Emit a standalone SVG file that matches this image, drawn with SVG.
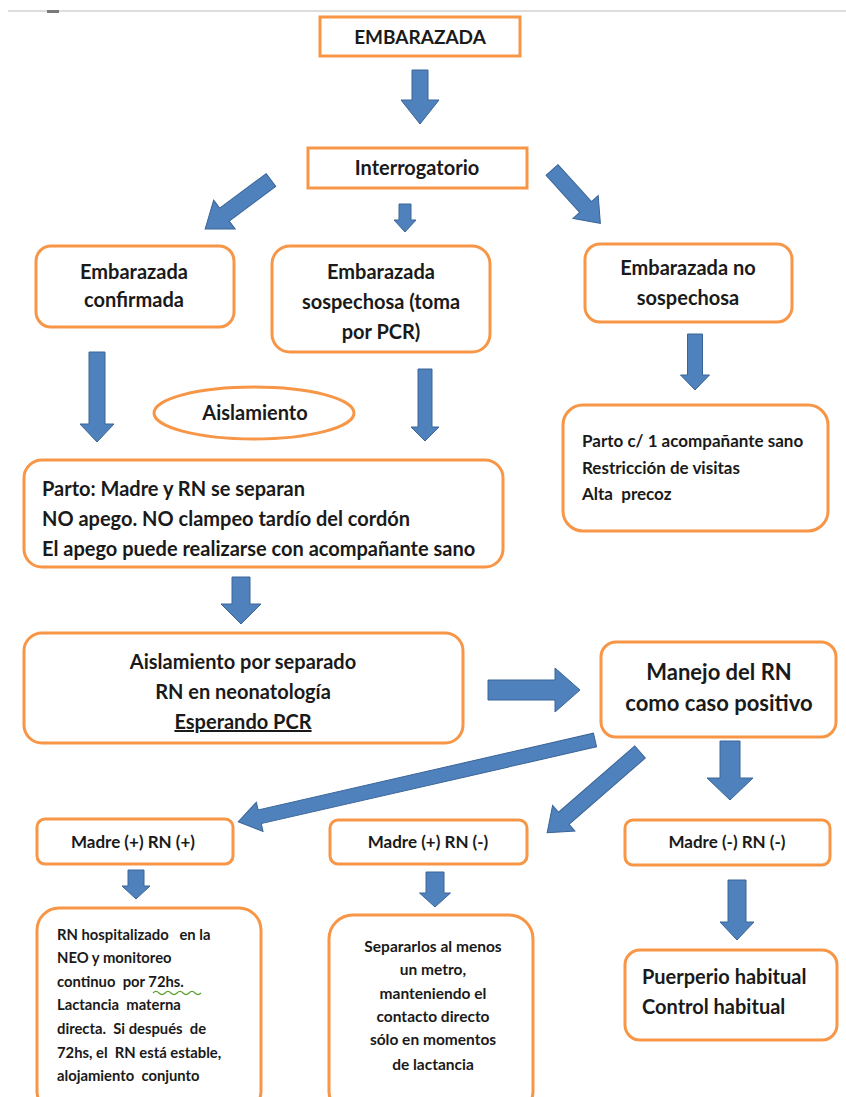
<svg xmlns="http://www.w3.org/2000/svg" width="846" height="1097" viewBox="0 0 846 1097">
<style>
.box{fill:#fff;stroke:#F79646;stroke-width:3}
.arr{fill:#4F81BD;stroke:#3A6496;stroke-width:1}
text{font-family:Lato,"Liberation Sans",sans-serif;font-weight:bold;fill:#1a1a1a;white-space:pre}
.c{text-anchor:middle}
.s19{font-size:19px}
.s20{font-size:20px}
.s17{font-size:17px}
.s14{font-size:14.8px}
.s145{font-size:15.5px}
.s22{font-size:22px}
</style>
<rect width="846" height="1097" fill="#fff"/>
<line x1="8" y1="11" x2="846" y2="11" stroke="#d2d2d2" stroke-width="1.5"/>
<rect x="47" y="10" width="12" height="3" fill="#7a7a7a"/>

<g id="connectors">
<polygon class="arr" points="0,-8 30,-8 30,-19 54,0 30,19 30,8 0,8" transform="translate(420,70) rotate(90)"/>
<polygon class="arr" points="0,-8 58,-8 58,-18 82,0 58,18 58,8 0,8" transform="translate(271,180) rotate(143.4)"/>
<polygon class="arr" points="0,-6 16,-6 16,-11 28,0 16,11 16,6 0,6" transform="translate(405,204) rotate(90)"/>
<polygon class="arr" points="0,-8 50,-8 50,-17 72,0 50,17 50,8 0,8" transform="translate(552,170) rotate(47.8)"/>
<polygon class="arr" points="0,-8 72,-8 72,-17 90,0 72,17 72,8 0,8" transform="translate(97,352) rotate(90)"/>
<polygon class="arr" points="0,-7 58,-7 58,-14 72,0 58,14 58,7 0,7" transform="translate(425,369) rotate(90)"/>
<polygon class="arr" points="0,-7.5 41,-7.5 41,-14.5 56,0 41,14.5 41,7.5 0,7.5" transform="translate(695,334) rotate(90)"/>
<polygon class="arr" points="0,-9 27,-9 27,-20 47,0 27,20 27,9 0,9" transform="translate(241,577) rotate(90)"/>
<polygon class="arr" points="0,-10 67,-10 67,-22 92,0 67,22 67,10 0,10" transform="translate(488,690)"/>
<polygon class="arr" points="0,-7 344,-7 344,-15 366,0 344,15 344,7 0,7" transform="translate(595,740) rotate(167.1)"/>
<polygon class="arr" points="0,-8 101,-8 101,-17 123,0 101,17 101,8 0,8" transform="translate(640,752) rotate(139)"/>
<polygon class="arr" points="0,-10 37,-10 37,-23 59,0 37,23 37,10 0,10" transform="translate(730,741) rotate(90)"/>
<polygon class="arr" points="0,-8 16,-8 16,-14 29,0 16,14 16,8 0,8" transform="translate(136,870) rotate(90)"/>
<polygon class="arr" points="0,-9 21,-9 21,-15.5 35,0 21,15.5 21,9 0,9" transform="translate(435,872) rotate(90)"/>
<polygon class="arr" points="0,-9 42,-9 42,-17 60,0 42,17 42,9 0,9" transform="translate(737,880) rotate(90)"/>
</g>

<g id="n-embarazada">
<rect class="box" x="320" y="17" width="200" height="39"/>
<text class="c s19" x="420" y="44">EMBARAZADA</text>
</g>
<g id="n-interrogatorio">
<rect class="box" x="308" y="148" width="219" height="40"/>
<text class="c s20" x="417" y="175">Interrogatorio</text>
</g>
<g id="n-confirmada">
<rect class="box" x="36" y="246" width="198" height="81" rx="15"/>
<text class="c s20" x="134" y="279">Embarazada</text>
<text class="c s20" x="134" y="307">confirmada</text>
</g>
<g id="n-sospechosa">
<rect class="box" x="272" y="246" width="218" height="106" rx="18"/>
<text class="c s20" x="381" y="279">Embarazada</text>
<text class="c s20" x="381" y="309">sospechosa (toma</text>
<text class="c s20" x="381" y="339">por PCR)</text>
</g>
<g id="n-nosospechosa">
<rect class="box" x="585" y="244" width="207" height="78" rx="15"/>
<text class="c s20" x="688" y="275">Embarazada no</text>
<text class="c s20" x="688" y="305">sospechosa</text>
</g>
<g id="n-aislamiento">
<ellipse cx="254" cy="413" rx="100" ry="26" fill="#fff" stroke="#F79646" stroke-width="3"/>
<text class="c s20" x="255" y="420">Aislamiento</text>
</g>
<g id="n-parto">
<rect class="box" x="24" y="460" width="479" height="107" rx="18"/>
<text class="s20" x="42" y="496">Parto: Madre y RN se separan</text>
<text class="s20" x="42" y="526">NO apego. NO clampeo tardío del cordón</text>
<text class="s20" x="42" y="556">El apego puede realizarse con acompañante sano</text>
</g>
<g id="n-partoacomp">
<rect class="box" x="563" y="405" width="265" height="126" rx="20"/>
<text class="s17" x="582" y="447">Parto c/ 1 acompañante sano</text>
<text class="s17" x="582" y="474">Restricción de visitas</text>
<text class="s17" x="582" y="500">Alta  precoz</text>
</g>
<g id="n-aislsep">
<rect class="box" x="24" y="633" width="439" height="110" rx="18"/>
<text class="c s20" x="243" y="669">Aislamiento por separado</text>
<text class="c s20" x="243" y="699">RN en neonatología</text>
<text class="c s20" x="243" y="729" text-decoration="underline">Esperando PCR</text>
</g>
<g id="n-manejo">
<rect class="box" x="601" y="642" width="235" height="95" rx="15"/>
<text class="c s22" x="719" y="680">Manejo del RN</text>
<text class="c s22" x="719" y="711">como caso positivo</text>
</g>
<g id="n-mpp">
<rect class="box" x="37" y="819" width="196" height="45" rx="8"/>
<text class="c s17" x="133" y="848">Madre (+) RN (+)</text>
</g>
<g id="n-mpn">
<rect class="box" x="330" y="820" width="197" height="44" rx="8"/>
<text class="c s17" x="428" y="848">Madre (+) RN (-)</text>
</g>
<g id="n-mnn">
<rect class="box" x="625" y="820" width="205" height="45" rx="8"/>
<text class="c s17" x="727" y="848">Madre (-) RN (-)</text>
</g>
<g id="n-rnhosp">
<rect class="box" x="37" y="908" width="224" height="205" rx="22"/>
<text class="s14" x="57" y="940">RN hospitalizado   en la</text>
<text class="s14" x="57" y="963">NEO y monitoreo</text>
<text class="s14" x="57" y="987">continuo  por 72hs.</text>
<path d="M153,993 q3,-3 6,0 t6,0 t6,0 t6,0 t6,0 t6,0 t6,0 t6,0" fill="none" stroke="#5aa02c" stroke-width="1.2"/>
<text class="s14" x="57" y="1010">Lactancia  materna</text>
<text class="s14" x="57" y="1034">directa.  Si después  de</text>
<text class="s14" x="57" y="1058">72hs, el  RN está estable,</text>
<text class="s14" x="57" y="1081">alojamiento  conjunto</text>
</g>
<g id="n-separarlos">
<rect class="box" x="329" y="915" width="204" height="200" rx="24"/>
<text class="c s145" x="433" y="952">Separarlos al menos</text>
<text class="c s145" x="433" y="975">un metro,</text>
<text class="c s145" x="433" y="999">manteniendo el</text>
<text class="c s145" x="433" y="1022">contacto directo</text>
<text class="c s145" x="433" y="1045">sólo en momentos</text>
<text class="c s145" x="433" y="1070">de lactancia</text>
</g>
<g id="n-puerperio">
<rect class="box" x="625" y="950" width="212" height="90" rx="15"/>
<text class="s20" x="642" y="984">Puerperio habitual</text>
<text class="s20" x="642" y="1014">Control habitual</text>
</g>
</svg>
